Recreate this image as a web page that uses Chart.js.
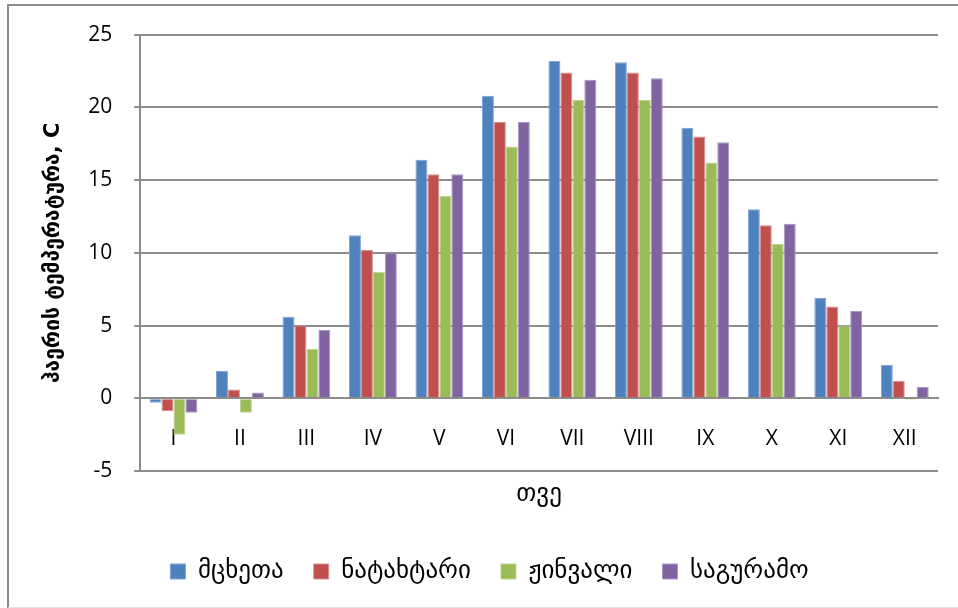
<!DOCTYPE html>
<html>
<head>
<meta charset="utf-8">
<script src="https://cdn.jsdelivr.net/npm/chart.js@4"></script>
<style>
    html, body { margin: 0; padding: 0; background: #fff; }
    #wrap { position: relative; width: 958px; height: 608px; }
    #frame {
        position: absolute; left: 7px; top: 4px; right: 0; bottom: 0;
        border-left: 2px solid #8c8c8c; border-top: 2px solid #8c8c8c;
        border-bottom: 1px solid #e4e4e4;
    }
    canvas { position: absolute; left: 0; top: 0; }
</style>
</head>
<body>
<div id="wrap">
    <div id="frame"></div>
    <canvas id="chart" width="958" height="608"></canvas>
</div>
<script>
// Data
const months = ["I", "II", "III", "IV", "V", "VI", "VII", "VIII", "IX", "X", "XI", "XII"];
const mtskheta = [-0.3, 1.9, 5.6, 11.2, 16.4, 20.8, 23.2, 23.1, 18.6, 13.0, 6.9, 2.3];
const natakhtari = [-0.9, 0.6, 5.0, 10.2, 15.4, 19.0, 22.4, 22.4, 18.0, 11.9, 6.3, 1.2];
const zhinvali = [-2.5, -1.0, 3.4, 8.7, 13.9, 17.3, 20.5, 20.5, 16.2, 10.6, 5.0, -0.1];
const saguramo = [-1.0, 0.4, 4.7, 10.0, 15.4, 19.0, 21.9, 22.0, 17.6, 12.0, 6.0, 0.8];
const seriesNames = ["მცხეთა", "ნატახტარი", "ჟინვალი", "საგურამო"];
const yTitle = "ჰაერის ტემპერატურა, C";
const xTitle = "თვე";

// Style
const colors = ["#4f81bd", "#c0504d", "#9bbb59", "#8064a2"];
const edges = ["#7ea3d3", "#dc8c8a", "#bcd68e", "#a893c4"];
const gridColor = "#8c8c8c";
const geoFont = "'DejaVu Sans', 'Noto Sans', sans-serif";
const numFont = "'Open Sans', 'Liberation Sans', sans-serif";

const makeDataset = (label, data, i) => ({
    label: label,
    data: data,
    backgroundColor: colors[i],
    borderColor: edges[i],
    borderWidth: 1,
    barPercentage: 1,
    categoryPercentage: 0.72
});

new Chart(document.querySelector("#chart"), {
    type: "bar",
    data: {
        labels: months,
        datasets: [
            makeDataset(seriesNames[0], mtskheta, 0),
            makeDataset(seriesNames[1], natakhtari, 1),
            makeDataset(seriesNames[2], zhinvali, 2),
            makeDataset(seriesNames[3], saguramo, 3)
        ]
    },
    options: {
        responsive: false,
        animation: false,
        layout: {
            padding: { top: 32, right: 20, left: 41, bottom: 14 }
        },
        plugins: {
            tooltip: { enabled: false },
            legend: {
                position: "bottom",
                labels: {
                    boxWidth: 15,
                    boxHeight: 15,
                    padding: 30,
                    color: "#000",
                    font: { family: geoFont, size: 25 }
                }
            }
        },
        scales: {
            x: {
                position: { y: 0 },
                grid: { display: false },
                border: { display: true, color: gridColor, width: 2 },
                ticks: {
                    color: "#000",
                    padding: 20,
                    font: { family: numFont, size: 21 }
                }
            },
            x2: {
                type: "category",
                labels: months,
                position: "bottom",
                grid: { display: false },
                border: { display: false },
                ticks: { display: false },
                title: {
                    display: true,
                    text: xTitle,
                    color: "#000",
                    padding: { top: 0, bottom: 20 },
                    font: { family: geoFont, size: 25 }
                }
            },
            y: {
                min: -5,
                max: 25,
                ticks: {
                    stepSize: 5,
                    color: "#000",
                    padding: 22,
                    font: { family: numFont, size: 21 }
                },
                grid: {
                    color: gridColor,
                    lineWidth: 2,
                    tickLength: 6
                },
                border: { color: gridColor, width: 2 },
                title: {
                    display: true,
                    text: yTitle,
                    color: "#000",
                    padding: { top: 0, bottom: 0 },
                    font: { family: geoFont, size: 21, weight: "bold" }
                }
            }
        }
    }
});
</script>
</body>
</html>
